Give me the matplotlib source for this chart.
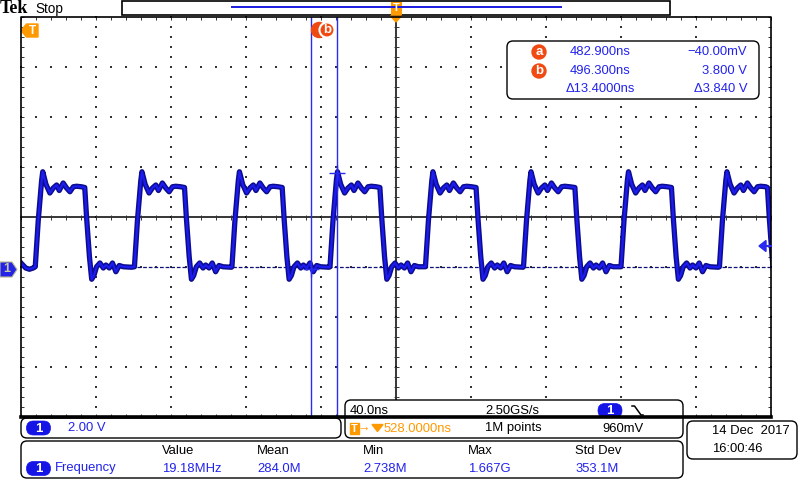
# -*- coding: utf-8 -*-
# Tela de osciloscópio (Tek, parado): pulsos ~19 MHz no canal 1, cursores a/b,
# leituras de cursor, base de tempo e medição de frequência.

import numpy as np
import matplotlib
matplotlib.use("Agg")
import matplotlib.pyplot as plt
from matplotlib.patches import FancyBboxPatch, Polygon, Circle, Rectangle
from matplotlib.collections import LineCollection

plt.rcParams["font.family"] = ["Liberation Sans", "DejaVu Sans"]

# ----------------- dados -----------------
# escala da tela
T_CENTRO = 528.0      # ns no centro da tela (atraso do trigger)
NS_DIV = 40.0
V_DIV = 2.0
V_CENTRO = 2.04       # V no centro vertical (marcador de terra 1 div abaixo)

# flancos (ponto médio, ns)
T_SUBIDA = [337.2, 390.1, 442.1, 494.4, 545.3, 597.6, 649.6, 702.1]
T_DESCIDA = [363.0, 416.2, 468.3, 520.4, 571.7, 624.4, 675.9, 727.1]

# forma após subida (ns relativo ao flanco, V)
SUB_DT = [-1.6, 0.0, 1.8, 2.4, 4.1, 6.2, 8.0, 9.8, 11.2, 13.3, 15.1, 16.9, 18.7, 20.4, 23.0]
SUB_V = [0.05, 1.9, 3.5, 3.85, 3.35, 3.0, 3.2, 3.32, 3.1, 3.4, 3.2, 3.05, 3.25, 3.27, 3.25]
# forma após descida
DESC_DT = [-1.0, 0.0, 1.5, 2.7, 3.9, 5.3, 7.1, 8.9, 10.3, 12.1, 13.8, 15.6, 17.4, 19.5, 24.0]
DESC_V = [3.22, 2.0, 0.45, -0.45, -0.3, 0.05, 0.2, 0.0, 0.12, 0.0, 0.2, -0.15, 0.1, 0.05, 0.03]
# trecho antes da primeira subida
INI_T = [328.0, 330.5, 332.5, 334.5, 335.6]
INI_V = [0.2, 0.0, -0.05, 0.0, 0.05]
# traço fino de fundo (nível baixo)
FUNDO_T = [390.1, 728.0]
FUNDO_V = [0.03, 0.03]

# cursores
CURSOR_T = [482.9, 496.3]
CURSOR_V = [-0.04, 3.8]
CURSOR_NOME = ["a", "b"]
CURSOR_TXT_T = ["482.900ns", "496.300ns", "\u039413.4000ns"]
CURSOR_TXT_V = ["\u221240.00mV", "3.800 V", "\u03943.840 V"]

# medições
MED_CAB = ["Value", "Mean", "Min", "Max", "Std Dev"]
MED_VAL = ["19.18MHz", "284.0M", "2.738M", "1.667G", "353.1M"]
MED_X = [162, 257, 363, 468, 575]

AZUL_TXT = "#2222ee"
AZUL_BADGE = "#1414e6"
LARANJA = "#ff9900"
VERMELHO = "#f04a12"

# ----------------- figura -----------------
fig = plt.figure(figsize=(8, 4.8), dpi=100)
fig.patch.set_facecolor("white")


def eixo_px(z):
    a = fig.add_axes([0, 0, 1, 1], zorder=z)
    a.set_xlim(0, 800)
    a.set_ylim(480, 0)
    a.axis("off")
    a.patch.set_alpha(0)
    return a


bg = eixo_px(0)
ax = fig.add_axes([21 / 800, 63 / 480, 750 / 800, 400 / 480], zorder=1)
ax.patch.set_alpha(0)
ax.axis("off")
fg = eixo_px(2)

X0, X1, Y0, Y1 = 21, 771, 17, 417
DX, DY = 75, 50
XC, YC = 396, 217

# ----------------- retícula -----------------
xs_min = np.arange(X0, X1 + 1, DX / 5)
ys_min = np.arange(Y0, Y1 + 1, DY / 5)
vx = [X0 + k * DX for k in range(1, 10) if k != 5]
hy = [Y0 + j * DY for j in range(1, 8) if j != 4]
gx, gy = np.meshgrid(vx, ys_min)
bg.scatter(gx.ravel(), gy.ravel(), s=0.6, marker="s", color="#333333", lw=0)
gx, gy = np.meshgrid(xs_min, hy)
bg.scatter(gx.ravel(), gy.ravel(), s=0.6, marker="s", color="#333333", lw=0)

bg.plot([X0, X1], [YC, YC], color="black", lw=1.1)
bg.plot([XC, XC], [Y0, Y1], color="black", lw=1.1)
segs = [[(x, YC - 2.5), (x, YC + 2.5)] for x in xs_min]
segs += [[(XC - 2.5, y), (XC + 2.5, y)] for y in ys_min]
segs += [[(x, Y0), (x, Y0 + 3)] for x in xs_min]
segs += [[(x, Y1 - 3), (x, Y1)] for x in xs_min]
segs += [[(X0, y), (X0 + 3, y)] for y in ys_min]
segs += [[(X1 - 3, y), (X1, y)] for y in ys_min]
bg.add_collection(LineCollection(segs, colors="#333333", linewidths=0.7))

# ----------------- traço -----------------
ax.set_xlim(T_CENTRO - 5 * NS_DIV, T_CENTRO + 5 * NS_DIV)
ax.set_ylim(V_CENTRO - 4 * V_DIV, V_CENTRO + 4 * V_DIV)

tt, vv = list(INI_T), list(INI_V)
for i, r in enumerate(T_SUBIDA):
    f = T_DESCIDA[i]
    for dt, v in zip(SUB_DT, SUB_V):
        if r + dt < f + DESC_DT[0]:
            tt.append(r + dt)
            vv.append(v)
    prox = T_SUBIDA[i + 1] if i + 1 < len(T_SUBIDA) else np.inf
    for dt, v in zip(DESC_DT, DESC_V):
        if f + dt < prox + SUB_DT[0]:
            tt.append(f + dt)
            vv.append(v)

ax.plot(FUNDO_T, FUNDO_V, color="#10107a", lw=0.9, dashes=(3, 1.5))
ax.plot(tt, vv, color="#0c0c8c", lw=3.8, solid_joinstyle="round")
ax.plot(tt, vv, color="#1c1cf0", lw=1.6, solid_joinstyle="round")

for t in CURSOR_T:
    ax.axvline(t, color="#2a2af0", lw=1)
ax.plot(CURSOR_T, CURSOR_V, ls="none", marker="+", ms=12, mew=1, color="#2a2af0")

# ----------------- moldura -----------------
fg.plot([X0, X0, X1, X1], [Y1, Y0, Y0, Y1], color="black", lw=1.2)
fg.plot([X0, X1], [Y1, Y1], color="black", lw=2.6)


def caixa(x0, y0, x1, y1, r=6):
    fg.add_patch(FancyBboxPatch((x0, y0), x1 - x0, y1 - y0,
                                boxstyle=f"round,pad=0,rounding_size={r}",
                                fc="white", ec="black", lw=1))


def badge(xc, yc, txt="1"):
    fg.add_patch(FancyBboxPatch((xc - 12, yc - 7), 24, 14,
                                boxstyle="round,pad=0,rounding_size=7",
                                fc=AZUL_BADGE, ec=AZUL_BADGE, lw=0.5))
    fg.text(xc, yc + 0.5, txt, color="white", fontsize=9.5, fontweight="bold",
            ha="center", va="center")


def txt(x, y, s, cor="black", ha="left", size=9.4, **kw):
    fg.text(x, y, s, color=cor, ha=ha, va="center", fontsize=size, **kw)


# ----------------- topo -----------------
txt(0, 8.5, "Tek", size=13, fontweight="bold", family=["Liberation Serif", "DejaVu Serif"])
txt(35, 8.5, "Stop", size=9.8)
fg.add_patch(Rectangle((122, 1), 548, 14, fc="white", ec="black", lw=1.2))
fg.plot([232, 561], [7, 7], color="#1a1ae0", lw=1.4)
fg.add_patch(Rectangle((390.5, 1.5), 11, 13, fc=LARANJA, ec=LARANJA, lw=0))
fg.text(396, 8, "T", color="white", fontsize=8, fontweight="bold", ha="center", va="center")
fg.add_patch(Polygon([(390.5, 16), (401.5, 16), (396, 22)], fc=LARANJA, ec=LARANJA))

# marcador T à esquerda
fg.add_patch(Polygon([(21, 30.5), (26.5, 24), (38, 24), (38, 37), (26.5, 37)],
                     fc=LARANJA, ec=LARANJA))
fg.text(32, 30.8, "T", color="white", fontsize=8.5, fontweight="bold", ha="center", va="center")

# rótulos dos cursores
fg.add_patch(Circle((319, 30), 7.5, fc=VERMELHO, ec=VERMELHO))
fg.add_patch(Circle((327, 30), 7.5, fc=VERMELHO, ec="white", lw=1.5))
fg.text(327.5, 30, "b", color="white", fontsize=9.5, fontweight="bold", ha="center", va="center")

# marcador de terra do canal 1 e nível do trigger
fg.add_patch(Polygon([(0, 262), (12, 262), (17, 269.5), (12, 277), (0, 277)],
                     fc="#2424e8", ec="#b8b890", lw=0.8))
fg.text(7, 269.5, "1", color="#c8c8a0", fontsize=9, fontweight="bold", ha="center", va="center")
fg.add_patch(Polygon([(759, 246), (766, 240.5), (766, 251.5)], fc="#2a2af0", ec="#2a2af0"))
fg.plot([765, 771], [246, 246], color="#2a2af0", lw=1.5)

# ----------------- leitura dos cursores -----------------
caixa(507, 41, 759, 99)
for k, (yl, nome) in enumerate(zip([52, 71], CURSOR_NOME)):
    fg.add_patch(Circle((539, yl), 7, fc=VERMELHO, ec=VERMELHO))
    fg.text(539, yl, nome, color="white", fontsize=9.5, fontweight="bold", ha="center", va="center")
for yl, st, sv in zip([52, 71, 89], CURSOR_TXT_T, CURSOR_TXT_V):
    txt(600, yl, st, AZUL_TXT, ha="center")
    txt(747, yl, sv, AZUL_TXT, ha="right")

# ----------------- rodapé -----------------
caixa(21, 418, 341, 438)
badge(38.5, 428)
txt(68, 428, "2.00 V", AZUL_TXT)

caixa(345, 400, 683, 438)
txt(350, 410.5, "40.0ns")
txt(485, 410.5, "2.50GS/s")
badge(610, 410.5)
fg.plot([632, 634.5, 641, 643], [406, 406, 415, 415], color="black", lw=1.1)
fg.add_patch(Rectangle((349.5, 422.5), 9, 11, fc=LARANJA, ec=LARANJA))
fg.text(354, 428.5, "T", color="white", fontsize=8, fontweight="bold", ha="center", va="center")
txt(358, 428.5, "\u2192", LARANJA, size=9)
fg.add_patch(Polygon([(372, 424.5), (383, 424.5), (377.5, 431.5)], fc=LARANJA, ec=LARANJA))
txt(384, 428.5, "528.0000ns", LARANJA)
txt(485, 428.5, "1M points")
txt(602, 428.5, "960mV")

caixa(21, 441, 683, 478)
for x, cab, val in zip(MED_X, MED_CAB, MED_VAL):
    txt(x, 450.5, cab)
    txt(x, 468.5, val, AZUL_TXT)
badge(38.5, 468.5)
txt(55, 468.5, "Frequency", AZUL_TXT)

caixa(687, 421, 797, 459)
txt(712, 430.5, "14 Dec  2017")
txt(712, 449, "16:00:46")

fig.savefig("out.png", dpi=100)
